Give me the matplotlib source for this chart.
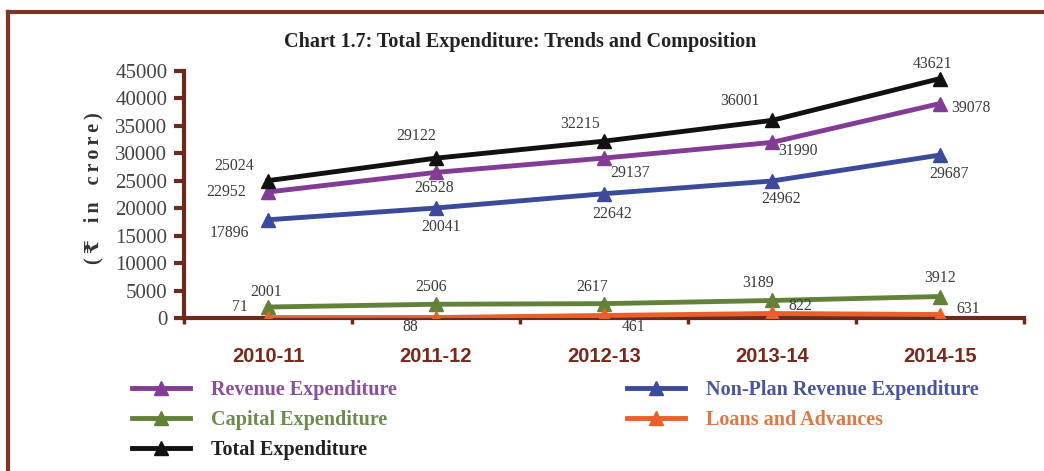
import matplotlib.pyplot as plt
from matplotlib.lines import Line2D

years = ['2010-11', '2011-12', '2012-13', '2013-14', '2014-15']
revenue = [22952, 26528, 29137, 31990, 39078]
capital = [2001, 2506, 2617, 3189, 3912]
total = [25024, 29122, 32215, 36001, 43621]
non_plan = [17896, 20041, 22642, 24962, 29687]
loans = [71, 88, 461, 822, 631]

# label offsets in pixels (dx, dy) for each point
rev_off = [(-42, 0), (-2, -16), (26, -15), (26, -9), (31, -4)]
cap_off = [(-2, 15), (-5, 17), (-12, 17), (-14, 17), (0, 19)]
tot_off = [(-34, 15), (-20, 22), (-24, 17), (-32, 19), (-7, 15)]
npl_off = [(-39, -13), (5, -19), (8, -20), (9, -18), (9, -19)]
loa_off = [(-28, 11), (-26, -9), (30, -12), (28, 7), (28, 6)]

brown = '#6B2A1E'
serif = ['Liberation Serif', 'DejaVu Serif']

fig = plt.figure(figsize=(10.44, 4.71), dpi=100)
ax = fig.add_axes([184 / 1044, 1 - 318 / 471, 840 / 1044, 247 / 471])

series = [
    ('Revenue Expenditure', revenue, '#833C96', rev_off, '#8B4FA0'),
    ('Capital Expenditure', capital, '#62823A', cap_off, '#6E8B4E'),
    ('Total Expenditure', total, '#111111', tot_off, '#222222'),
    ('Non-Plan Revenue Expenditure', non_plan, '#3B4A9B', npl_off, '#4A55A0'),
    ('Loans and Advances', loans, '#E8602C', loa_off, '#E07845'),
]

x = list(range(len(years)))
handles = {}
for name, vals, col, offs, tcol in series:
    h, = ax.plot(x, vals, color=col, lw=3.5, marker='^', ms=10,
                 markeredgecolor=col, markerfacecolor=col, zorder=3)
    handles[name] = (h, tcol)
    for xi, v, (dx, dy) in zip(x, vals, offs):
        ax.annotate(str(v), (xi, v), xytext=(dx, dy), textcoords='offset pixels',
                    ha='center', va='center', fontsize=11.3, color='#3a3a3a',
                    family=serif)

ax.set_xlim(-0.5, 4.5)
ax.set_ylim(0, 45000)
ax.set_yticks(range(0, 45001, 5000))
ax.set_xticks([i - 0.5 for i in range(6)])
ax.set_xticklabels([])
ax.set_xticks(x, minor=True)
ax.set_xticklabels(years, minor=True)
ax.tick_params(axis='x', which='major', direction='out', length=4, width=2.5, color=brown)
ax.tick_params(axis='x', which='minor', length=0, pad=21)
ax.tick_params(axis='y', direction='out', length=7, width=3, color=brown, pad=5)
for lab in ax.get_xticklabels(minor=True):
    lab.set_fontfamily('Liberation Sans')
    lab.set_fontweight('bold')
    lab.set_fontsize(14.5)
    lab.set_color('#7A2818')
for lab in ax.get_yticklabels():
    lab.set_fontfamily('Liberation Serif')
    lab.set_fontsize(15)
    lab.set_color('#444444')

for s in ['top', 'right']:
    ax.spines[s].set_visible(False)
for s in ['left', 'bottom']:
    ax.spines[s].set_color(brown)
    ax.spines[s].set_linewidth(3)
ax.spines['bottom'].set_zorder(2)

fig.text(520 / 1044, 1 - 42 / 471, 'Chart 1.7: Total Expenditure: Trends and Composition',
         ha='center', va='center', fontsize=14.5, fontweight='bold',
         family=serif, color='#222222')
# letter-spaced axis title
ylab = '\u2009'.join('(₹ in crore)').replace('\u2009 \u2009', '\u2009\u2009\u2009 ')
fig.text(93 / 1044, 1 - 188 / 471, ylab, rotation=90, ha='center',
         va='center', fontsize=14.5, fontweight='bold', family=serif, color='#333333')

# outer frame (top and left edges)
fig.add_artist(Line2D([8 / 1044, 1], [1 - 12 / 471] * 2, color='#7A3525', lw=3))
fig.add_artist(Line2D([8 / 1044] * 2, [0, 1 - 12 / 471], color='#7A3525', lw=3))

def make_legend(names, anchor):
    hs = [handles[n][0] for n in names]
    leg = fig.legend(hs, names, loc='upper left', bbox_to_anchor=anchor,
                     frameon=False, handlelength=2.9, handletextpad=1.0,
                     labelspacing=0.5, borderpad=0,
                     prop={'family': serif, 'weight': 'bold', 'size': 14.5})
    for t, n in zip(leg.get_texts(), names):
        t.set_color(handles[n][1])
    return leg

make_legend(['Revenue Expenditure', 'Capital Expenditure', 'Total Expenditure'],
            (122 / 1044, 1 - 370 / 471))
make_legend(['Non-Plan Revenue Expenditure', 'Loans and Advances'],
            (617 / 1044, 1 - 370 / 471))

fig.savefig('out.png', dpi=100)
